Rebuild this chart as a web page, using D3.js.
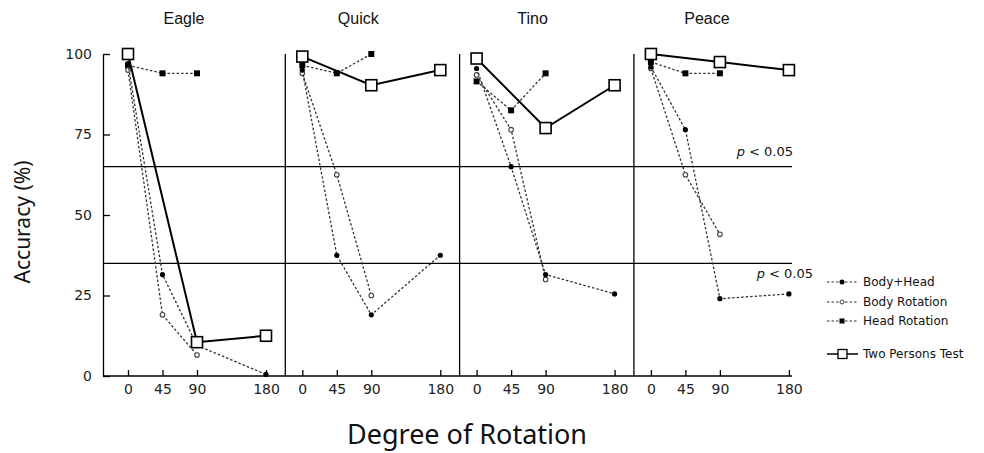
<!DOCTYPE html>
<html>
<head>
<meta charset="utf-8">
<script src="https://cdn.jsdelivr.net/npm/d3@7"></script>
<style>
    body { margin: 0; background: #fff; }
    .axis text { font-family: "DejaVu Sans", sans-serif; font-size: 14px; fill: #222; }
    .axis line, .axis path { stroke: #000; stroke-width: 1.3; }
    .title { font-family: "Liberation Sans", Arial, sans-serif; font-size: 16px; fill: #111; }
    .legend text { font-family: "DejaVu Sans", sans-serif; font-size: 12px; fill: #111; }
</style>
</head>
<body>
<svg id="chart" width="984" height="453"></svg>
<script>
var panels = ["Eagle", "Quick", "Tino", "Peace"];
var degrees = [0, 45, 90, 180];
var yTicks = [0, 25, 50, 75, 100];
var pLevels = [65, 35];

// body+head at 0, 45, 90, 180
var bodyHead = [[97, 31.5, 9.5, 0.5], [95, 37.5, 19, 37.5], [95.5, 65, 31.5, 25.5], [96, 76.5, 24, 25.5]];
// body rotation at 0, 45, 90
var bodyRotation = [[95, 19, 6.5], [94, 62.5, 25], [93.5, 76.5, 30], [95.5, 62.5, 44]];
// head rotation at 0, 45, 90
var headRotation = [[96.5, 94, 94], [96.5, 94, 100], [91.5, 82.5, 94], [97.5, 94, 94]];
// two persons test at 0, 90, 180
var twoPersons = [[100, 10.5, 12.5], [99.2, 90.3, 95], [98.6, 77, 90.3], [100, 97.5, 95]];

var legendLabels = ["Body+Head", "Body Rotation", "Head Rotation", "Two Persons Test"];

var svg = d3.select("#chart");
var plotLeft = 103, plotRight = 792, plotTop = 54, plotBottom = 376;

var yScale = d3.scaleLinear().domain([0, 100]).range([plotBottom, plotTop]);
var panelScale = d3.scaleBand().domain(panels).range([111, 111 + 174.3 * 4]).paddingInner(0);

function xScale(i) {
    var x0 = panelScale(panels[i]) + 17;
    return d3.scaleLinear().domain([0, 180]).range([x0, x0 + 138]);
}

// y axis
var yAxis = svg.append("g")
    .attr("class", "axis")
    .attr("transform", "translate(" + plotLeft + ",0)")
    .call(d3.axisLeft(yScale).tickValues(yTicks).tickSizeInner(-7).tickSizeOuter(0).tickPadding(11));

// base line
svg.append("line")
    .attr("x1", plotLeft).attr("x2", plotRight)
    .attr("y1", plotBottom).attr("y2", plotBottom)
    .attr("stroke", "#000").attr("stroke-width", 1.3);

// p < 0.05 lines
svg.selectAll(".pline")
    .data(pLevels)
    .enter().append("line")
    .attr("class", "pline")
    .attr("x1", plotLeft).attr("x2", plotRight)
    .attr("y1", function(d) { return yScale(d); })
    .attr("y2", function(d) { return yScale(d); })
    .attr("stroke", "#000").attr("stroke-width", 1.3);

var pText = svg.selectAll(".ptext")
    .data(pLevels)
    .enter().append("text")
    .attr("class", "ptext")
    .attr("text-anchor", "end")
    .attr("x", function(d, i) { return i == 0 ? 793 : 813; })
    .attr("y", function(d, i) { return i == 0 ? yScale(d) - 11 : yScale(d) + 15; })
    .attr("font-family", "DejaVu Sans, sans-serif")
    .attr("font-size", 13)
    .attr("fill", "#111");
pText.append("tspan").attr("font-style", "italic").text("p");
pText.append("tspan").text(" < 0.05");

function dashedSeries(g, x, degs, vals, marker) {
    var line = d3.line()
        .x(function(d, k) { return x(degs[k]); })
        .y(function(d) { return yScale(d); });
    g.append("path")
        .attr("d", line(vals))
        .attr("fill", "none")
        .attr("stroke", "#333")
        .attr("stroke-width", 1.3)
        .attr("stroke-dasharray", "2.5,2");
    var pts = g.selectAll(null).data(vals).enter();
    if (marker == "square") {
        pts.append("rect")
            .attr("x", function(d, k) { return x(degs[k]) - 3; })
            .attr("y", function(d) { return yScale(d) - 3; })
            .attr("width", 6).attr("height", 6)
            .attr("fill", "#000");
    } else {
        pts.append("circle")
            .attr("cx", function(d, k) { return x(degs[k]); })
            .attr("cy", function(d) { return yScale(d); })
            .attr("r", marker == "open" ? 2.3 : 2.6)
            .attr("fill", marker == "open" ? "#fff" : "#000")
            .attr("stroke", marker == "open" ? "#444" : "none")
            .attr("stroke-width", 1.1);
    }
}

panels.forEach(function(name, i) {
    var x = xScale(i);
    var g = svg.append("g").attr("class", "panel");

    if (i > 0) {
        g.append("line")
            .attr("x1", panelScale(name)).attr("x2", panelScale(name))
            .attr("y1", plotTop).attr("y2", plotBottom)
            .attr("stroke", "#000").attr("stroke-width", 1.3);
    }

    var xAxis = g.append("g")
        .attr("class", "axis")
        .attr("transform", "translate(0," + plotBottom + ")")
        .call(d3.axisBottom(x).tickValues(degrees).tickSizeInner(-6).tickSizeOuter(0).tickPadding(8));
    xAxis.select(".domain").remove();

    g.append("text")
        .attr("class", "title")
        .attr("x", x(0) + 56)
        .attr("y", 24)
        .attr("text-anchor", "middle")
        .text(name);

    dashedSeries(g, x, [0, 45, 90], headRotation[i], "square");
    dashedSeries(g, x, [0, 45, 90], bodyRotation[i], "open");
    dashedSeries(g, x, degrees, bodyHead[i], "filled");

    // two persons test
    var tpDeg = [0, 90, 180];
    var line = d3.line()
        .x(function(d, k) { return x(tpDeg[k]); })
        .y(function(d) { return yScale(d); });
    g.append("path")
        .attr("d", line(twoPersons[i]))
        .attr("fill", "none")
        .attr("stroke", "#000")
        .attr("stroke-width", 2);
    g.selectAll(".tp")
        .data(twoPersons[i])
        .enter().append("rect")
        .attr("class", "tp")
        .attr("x", function(d, k) { return x(tpDeg[k]) - 5.5; })
        .attr("y", function(d) { return yScale(d) - 5.5; })
        .attr("width", 11).attr("height", 11)
        .attr("fill", "#fff")
        .attr("stroke", "#000")
        .attr("stroke-width", 1.6);
});

// axis titles
svg.append("text")
    .attr("transform", "translate(30,222) rotate(-90)")
    .attr("text-anchor", "middle")
    .attr("font-family", "Noto Sans, sans-serif")
    .attr("font-size", 21)
    .attr("fill", "#111")
    .text("Accuracy (%)");

svg.append("text")
    .attr("x", 467)
    .attr("y", 444)
    .attr("text-anchor", "middle")
    .attr("font-family", "Noto Sans, sans-serif")
    .attr("font-size", 27)
    .attr("fill", "#111")
    .text("Degree of Rotation");

// legend
var legendY = [282, 302, 321, 354];
var legend = svg.append("g").attr("class", "legend");
var items = legend.selectAll("g")
    .data(legendLabels)
    .enter().append("g")
    .attr("transform", function(d, i) { return "translate(827," + legendY[i] + ")"; });

items.append("line")
    .attr("x1", 0).attr("x2", 31)
    .attr("stroke", function(d, i) { return i == 3 ? "#000" : "#333"; })
    .attr("stroke-width", function(d, i) { return i == 3 ? 1.5 : 1.2; })
    .attr("stroke-dasharray", function(d, i) { return i == 3 ? null : "2.5,2"; });

items.each(function(d, i) {
    var it = d3.select(this);
    if (i == 0) {
        it.append("circle").attr("cx", 15).attr("r", 2.5).attr("fill", "#000");
    } else if (i == 1) {
        it.append("circle").attr("cx", 15).attr("r", 2).attr("fill", "#fff").attr("stroke", "#444");
    } else if (i == 2) {
        it.append("rect").attr("x", 12.5).attr("y", -2.5).attr("width", 5).attr("height", 5).attr("fill", "#000");
    } else {
        it.append("rect").attr("x", 11).attr("y", -4.5).attr("width", 9).attr("height", 9)
            .attr("fill", "#fff").attr("stroke", "#000").attr("stroke-width", 1.3);
    }
});

items.append("text")
    .attr("x", 36)
    .attr("dy", "0.35em")
    .text(function(d) { return d; });
</script>
</body>
</html>
